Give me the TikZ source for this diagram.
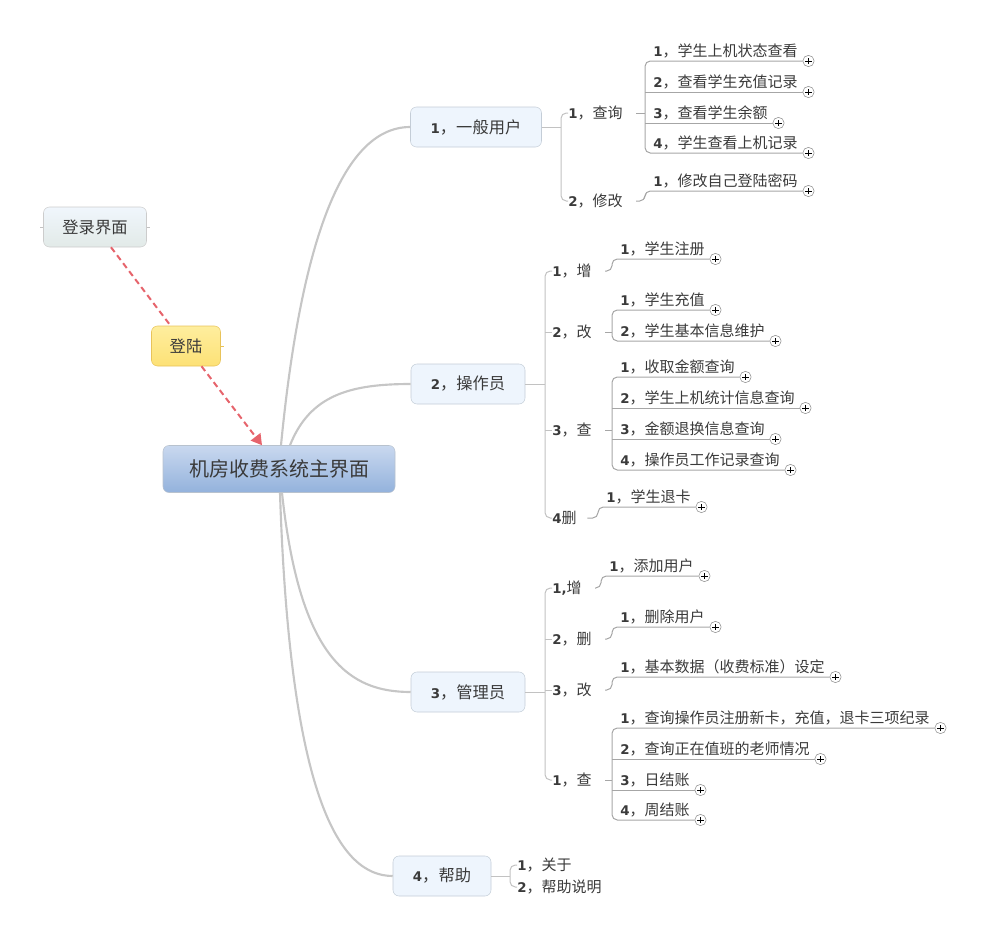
\documentclass[tikz,border=0pt]{standalone}
\usepackage{fontspec}
\setmainfont{DejaVu Sans}
\newfontfamily\cjk{Noto Sans CJK SC}
\usetikzlibrary{arrows.meta,calc}

\definecolor{inkgray}{HTML}{3A3A3A}
\definecolor{topicline}{HTML}{C4CDD7}
\definecolor{topicfill}{HTML}{EEF5FD}
\definecolor{maintop}{HTML}{C9D8EF}
\definecolor{mainbot}{HTML}{93B2DC}
\definecolor{mainline}{HTML}{B8C2CE}
\definecolor{logintop}{HTML}{F0F6FC}
\definecolor{loginbot}{HTML}{E2EAE8}
\definecolor{dltop}{HTML}{FEEE9E}
\definecolor{dlbot}{HTML}{FDE176}
\definecolor{branchgray}{HTML}{C6C6C6}
\definecolor{stemgray}{HTML}{C2C2C2}
\definecolor{twiggray}{HTML}{A6A6A6}
\definecolor{plusgray}{HTML}{8C8C8C}
\definecolor{logred}{HTML}{E6646C}
\definecolor{dlline}{HTML}{E8C35A}

\newcommand\nb[1]{{\rmfamily\bfseries\fontsize{10}{12}\selectfont #1}}

\begin{document}
\begin{tikzpicture}[x=0.75pt,y=-0.75pt,
    every node/.style={text=inkgray},
    topic/.style={draw=topicline,fill=topicfill,rounded corners=4.5pt,minimum height=30pt,
      font=\cjk\fontsize{12.2}{14}\selectfont},
    sub/.style={anchor=west,inner xsep=0pt,font=\cjk\fontsize{11.25}{13}\selectfont},
    leaf/.style={anchor=south west,inner xsep=0pt,inner ysep=2pt,font=\cjk\fontsize{11.25}{13}\selectfont},
    plus/.style={circle,draw=plusgray,fill=white,inner sep=0pt,minimum size=8.5pt,
      path picture={\draw[black,line width=0.7pt]
        ([xshift=-2.4pt]path picture bounding box.center) -- ([xshift=2.4pt]path picture bounding box.center)
        ([yshift=-2.4pt]path picture bounding box.center) -- ([yshift=2.4pt]path picture bounding box.center);}},
    branch/.style={draw=branchgray,line width=1.6pt},
    stem/.style={draw=stemgray,line width=0.75pt,rounded corners=4pt},
    twig/.style={draw=twiggray,line width=0.75pt,rounded corners=4pt},
    logline/.style={draw=logred,line width=1.5pt,dash pattern=on 4.5pt off 3pt}]

  \useasboundingbox (0,0) rectangle (1001,939);

  % main topics
  \node[draw=mainline,rounded corners=4.5pt,top color=maintop,bottom color=mainbot,
        minimum width=174pt,minimum height=35.25pt,font=\cjk\fontsize{15}{18}\selectfont]
        (main) at (279,469) {机房收费系统主界面};
  \node[draw=gray!40,rounded corners=4.5pt,top color=logintop,bottom color=loginbot,
        minimum width=77.25pt,minimum height=30pt,font=\cjk\fontsize{12.2}{14}\selectfont]
        (login) at (95,227) {登录界面};
  \node[draw=dlline,rounded corners=4.5pt,top color=dltop,bottom color=dlbot,
        minimum width=51.75pt,minimum height=30pt,font=\cjk\fontsize{12.2}{14}\selectfont]
        (dl) at (186,346) {登陆};

  \node[topic,minimum width=98.25pt] (u)  at (476,127) {\nb{1}，一般用户};
  \node[topic,minimum width=85.5pt]  (op) at (468,384) {\nb{2}，操作员};
  \node[topic,minimum width=85.5pt]  (ad) at (468,692) {\nb{3}，管理员};
  \node[topic,minimum width=73.5pt]  (hp) at (442,876) {\nb{4}，帮助};

  % login arrow
  \coordinate (la) at ($(login.south)+(16,0)$);
  \coordinate (lb) at ($(main.north)+(-17,0)$);
  \draw[logline] (la) -- (dl);
  \draw[logline,-{Triangle[length=8pt,width=9pt]}] (dl) -- (lb);
  \draw[stemgray] (login.west) -- ++(-3,0) (login.east) -- ++(3,0);
  \draw[dlline] (dl.east) -- ++(3,0);

  % branches
  \draw[branch] ($(main.north)+(2,0)$) .. controls (300,250) and (340,127) .. (u.west);
  \draw[branch] ($(main.north)+(11,0)$) .. controls (310,395) and (350,384) .. (op.west);
  \draw[branch] ($(main.south)+(3,0)$) .. controls (300,660) and (350,692) .. (ad.west);
  \draw[branch] ($(main.south)+(1,0)$) .. controls (290,800) and (340,876) .. (hp.west);

  % second level
  \foreach \n/\x/\y/\t in {u1/568/113/{\nb{1}，查询}, u2/568/201/{\nb{2}，修改},
      op1/552/271/{\nb{1}，增}, op2/552/332/{\nb{2}，改}, op3/552/430/{\nb{3}，查}, op4/552/518/{\nb{4}删},
      ad1/552/588/{\nb{1,}增}, ad2/552/639/{\nb{2}，删}, ad3/552/690/{\nb{3}，改}, ad4/552/780/{\nb{1}，查},
      hp1/517/865/{\nb{1}，关于}, hp2/517/887/{\nb{2}，帮助说明}}
    \node[sub] (\n) at (\x,\y) {\t};

  \draw[stem] (u.east) -- (561,127);
  \draw[stem] (u1.west) -- (561,113) -- (561,201) -- (u2.west);
  \draw[stem] (op.east) -- (545,384);
  \draw[stem] (op1.west) -- (545,271) -- (545,518) -- (op4.west);
  \draw[stem] (545,332) -- (op2.west) (545,430) -- (op3.west);
  \draw[stem] (ad.east) -- (545,692);
  \draw[stem] (ad1.west) -- (545,588) -- (545,780) -- (ad4.west);
  \draw[stem] (545,639) -- (ad2.west) (545,690) -- (ad3.west);
  \draw[stem] (hp.east) -- (510,876);
  \draw[stem] (hp1.west) -- (510,865) -- (510,887) -- (hp2.west);

  % leaves
  \foreach \n/\x/\y/\k/\t in {
      u1a/645/61/1/学生上机状态查看, u1b/645/92/2/查看学生充值记录,
      u1c/645/123/3/查看学生余额, u1d/645/153/4/学生查看上机记录,
      u2a/645/191/1/修改自己登陆密码,
      op1a/612/259/1/学生注册,
      op2a/612/310/1/学生充值, op2b/612/341/2/学生基本信息维护,
      op3a/612/377/1/收取金额查询, op3b/612/408/2/学生上机统计信息查询,
      op3c/612/439/3/金额退换信息查询, op3d/612/470/4/操作员工作记录查询,
      op4a/598/507/1/学生退卡,
      ad1a/601/576/1/添加用户,
      ad2a/612/627/1/删除用户,
      ad3a/612/677/1/基本数据（收费标准）设定,
      ad4a/612/728/1/查询操作员注册新卡，充值，退卡三项纪录, ad4b/612/759/2/查询正在值班的老师情况,
      ad4c/612/790/3/日结账, ad4d/612/820/4/周结账}
  {
    \node[leaf] (\n) at (\x+8,\y) {\nb{\k}，\t};
    \node[plus] (\n-p) at ([xshift=8pt]\n.south east) {};
  }

  \draw[twig] (u1a-p.west) -- (645,61) -- (645,153) -- (u1d-p.west);
  \draw[twig] (645,92) -- (u1b-p.west) (645,123) -- (u1c-p.west);
  \draw[twig] ([xshift=10pt]u1.east) -- (645,113);
  \draw[twig] ([xshift=10pt]u2.east) -- (645,201) -- (645,191) -- (u2a-p.west);

  \draw[twig] ([xshift=10pt]op1.east) -- (612,271) -- (612,259) -- (op1a-p.west);
  \draw[twig] (op2a-p.west) -- (612,310) -- (612,341) -- (op2b-p.west);
  \draw[twig] ([xshift=10pt]op2.east) -- (612,332);
  \draw[twig] (op3a-p.west) -- (612,377) -- (612,470) -- (op3d-p.west);
  \draw[twig] (612,408) -- (op3b-p.west) (612,439) -- (op3c-p.west);
  \draw[twig] ([xshift=10pt]op3.east) -- (612,430);
  \draw[twig] ([xshift=8pt]op4.east) -- (598,518) -- (598,507) -- (op4a-p.west);

  \draw[twig] ([xshift=10pt]ad1.east) -- (601,588) -- (601,576) -- (ad1a-p.west);
  \draw[twig] ([xshift=10pt]ad2.east) -- (612,639) -- (612,627) -- (ad2a-p.west);
  \draw[twig] ([xshift=10pt]ad3.east) -- (612,690) -- (612,677) -- (ad3a-p.west);
  \draw[twig] (ad4a-p.west) -- (612,728) -- (612,820) -- (ad4d-p.west);
  \draw[twig] (612,759) -- (ad4b-p.west) (612,790) -- (ad4c-p.west);
  \draw[twig] ([xshift=10pt]ad4.east) -- (612,780);
\end{tikzpicture}
\end{document}
